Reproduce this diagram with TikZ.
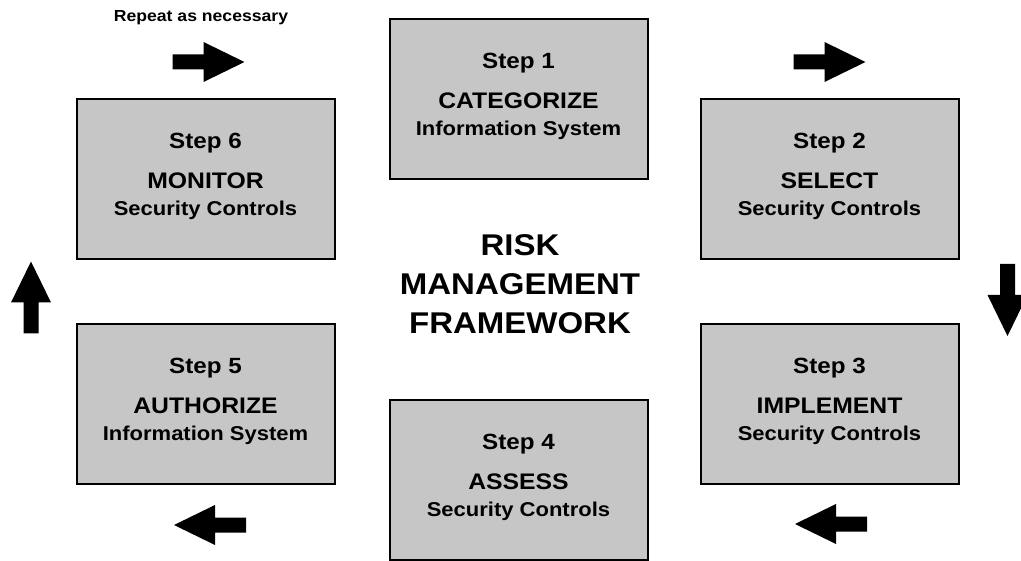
\documentclass[tikz,border=0pt]{standalone}
\usepackage{fontspec}
\newfontfamily\af{Liberation Sans}[FakeStretch=1.1]
\begin{document}
\begin{tikzpicture}[x=1pt,y=-1pt,
  stepbox/.style={draw=black, line width=2pt, fill=boxgray, minimum width=258pt, minimum height=160pt, inner sep=0pt},
  steptext/.style={align=center, font=\af\bfseries\fontsize{20}{27}\selectfont, inner sep=0pt},
  blockarrow/.pic={\fill[black] (-36,-7.5) -- (-5,-7.5) -- (-5,-20) -- (36,0) -- (-5,20) -- (-5,7.5) -- (-36,7.5) -- cycle;}
]
\definecolor{boxgray}{HTML}{C6C6C6}
\useasboundingbox (0,0) rectangle (1021,561);
\fill[white] (0,0) rectangle (1021,561);

% boxes
\node[stepbox] (b1) at (518.5,99) {};
\node[stepbox] (b2) at (829.5,179) {};
\node[stepbox] (b3) at (829.5,404) {};
\node[stepbox] (b4) at (518.5,480) {};
\node[stepbox] (b5) at (205.5,404) {};
\node[stepbox] (b6) at (205.5,179) {};

% box texts
\newcommand{\steplines}[3]{{\fontsize{22}{27}\selectfont #1}\\[13pt]{\fontsize{22.5}{27}\selectfont #2}\\#3}
\node[steptext] (t1) at ([yshift=2.5]b1.center) {\steplines{Step 1}{CATEGORIZE}{Information System}};
\node[steptext] (t2) at ([yshift=2.5]b2.center) {\steplines{Step 2}{SELECT}{Security Controls}};
\node[steptext] (t3) at ([yshift=2.5]b3.center) {\steplines{Step 3}{IMPLEMENT}{Security Controls}};
\node[steptext] (t4) at ([yshift=2.5]b4.center) {\steplines{Step 4}{ASSESS}{Security Controls}};
\node[steptext] (t5) at ([yshift=2.5]b5.center) {\steplines{Step 5}{AUTHORIZE}{Information System}};
\node[steptext] (t6) at ([yshift=2.5]b6.center) {\steplines{Step 6}{MONITOR}{Security Controls}};

% centre title
\node[align=center, inner sep=0pt, font=\af\bfseries\fontsize{30}{39}\selectfont] (title) at (520,284) {RISK\\MANAGEMENT\\FRAMEWORK};

% repeat label
\node[inner sep=0pt, font=\af\bfseries\fontsize{16}{19}\selectfont] (rep) at (201,18) {Repeat as necessary};

% block arrows
\pic at (208.5,62) {blockarrow};
\pic at (829.5,62) {blockarrow};
\pic[rotate=-90] at (1007.5,300) {blockarrow};
\pic[rotate=180] at (831,524) {blockarrow};
\pic[rotate=180] at (210,525) {blockarrow};
\pic[rotate=90] at (31,297.5) {blockarrow};
\end{tikzpicture}
\end{document}
